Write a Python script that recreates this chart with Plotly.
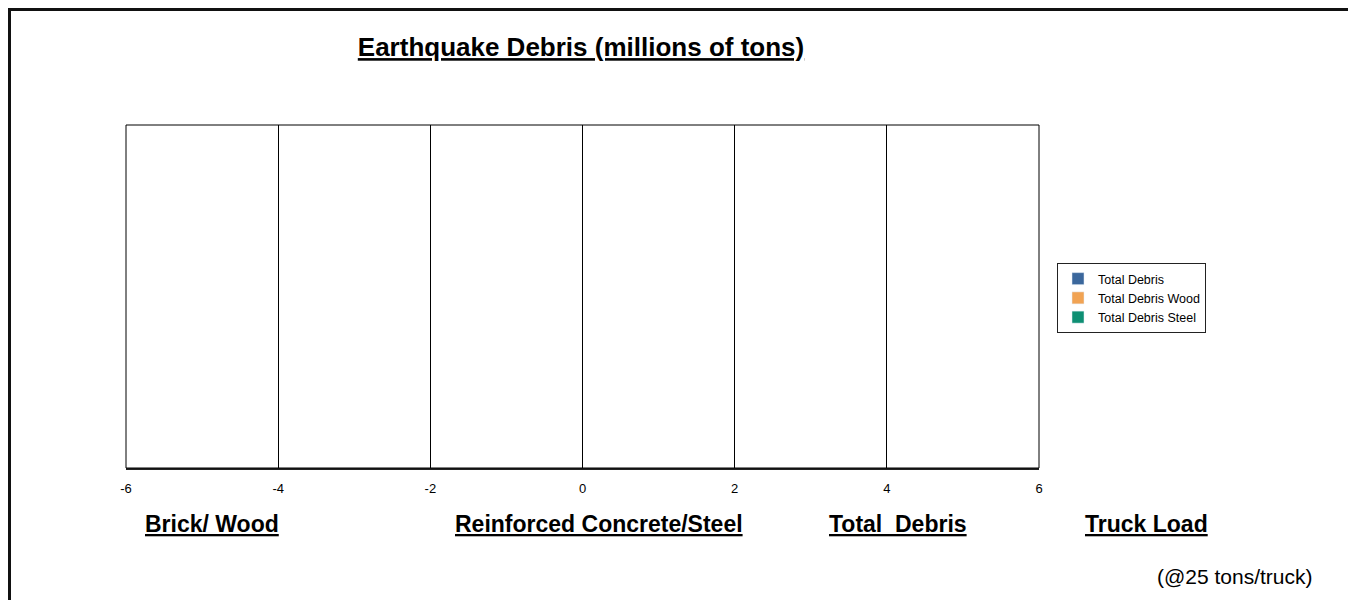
import plotly.graph_objects as go

# Data (chart shows no bars: values are empty)
categories = ["Brick/ Wood", "Reinforced Concrete/Steel", "Total  Debris", "Truck Load"]
series_names = ["Total Debris", "Total Debris Wood", "Total Debris Steel"]
series_values = {
    "Total Debris": [None, None, None, None],
    "Total Debris Wood": [None, None, None, None],
    "Total Debris Steel": [None, None, None, None],
}
series_colors = ["#3B679C", "#F1A353", "#0E8F73"]
tick_values = [-6, -4, -2, 0, 2, 4, 6]
tick_labels = ["-6", "-4", "-2", "0", "2", "4", "6"]

OFF = 8  # page body margin
W, H = 1356, 600
L, T = 126 - OFF, 125 - OFF
pw, ph = 913, 343
R = W - L - pw
B = H - T - ph

def px(x):
    return (x - OFF - L) / pw

def py(y):
    return (T + ph - (y - OFF)) / ph

fig = go.Figure()
for name, color in zip(series_names, series_colors):
    fig.add_trace(go.Bar(
        y=categories, x=series_values[name], name=name, orientation="h",
        marker=dict(color=color), showlegend=True,
    ))

fig.update_layout(
    width=W, height=H,
    margin=dict(l=L, r=R, t=T, b=B),
    paper_bgcolor="white", plot_bgcolor="white",
    font=dict(family="Arial, Liberation Sans, sans-serif", color="black"),
    barmode="group",
    title=dict(
        text="<b><u>Earthquake Debris (millions of tons)</u></b>",
        x=px(581), xref="paper", xanchor="center",
        y=1 - (47 - OFF) / H, yanchor="middle",
        font=dict(size=26, color="black"),
    ),
    xaxis=dict(
        range=[-6, 6], tickmode="array", tickvals=tick_values, ticktext=tick_labels,
        showgrid=True, gridcolor="black", gridwidth=1,
        zeroline=True, zerolinecolor="black", zerolinewidth=1,
        showline=True, linecolor="#222", linewidth=2,
        ticks="", tickfont=dict(size=13, color="black"), ticklabelstandoff=7,
    ),
    yaxis=dict(
        showticklabels=False, showgrid=False, zeroline=False, showline=False,
        ticks="", categoryorder="array", categoryarray=categories,
    ),
    legend=dict(
        x=px(1057), y=py(263), xanchor="left", yanchor="top",
        bordercolor="#222", borderwidth=1, bgcolor="white",
        font=dict(size=12.5, color="black"),
        itemwidth=30, tracegroupgap=0,
    ),
    showlegend=True,
    shapes=[
        # plot area border
        dict(type="rect", xref="paper", yref="paper", x0=0, x1=1, y0=0, y1=1,
             line=dict(color="black", width=1), layer="above"),
        # outer chart border (top and left visible)
        dict(type="path", xref="paper", yref="paper",
             path=f"M {px(9.5)} {py(620)} L {px(9.5)} {py(9.5)} L {px(1380)} {py(9.5)}",
             line=dict(color="#111", width=3)),
    ],
)

labels = [
    ("<b><u>Brick/ Wood</u></b>", 212, 524, 23),
    ("<b><u>Reinforced Concrete/Steel</u></b>", 598.5, 524, 23),
    ("<b><u>Total  Debris</u></b>", 898, 524, 23),
    ("<b><u>Truck Load</u></b>", 1146.5, 524, 23),
    ("(@25 tons/truck)", 1235, 576, 21),
]
for text, x, y, size in labels:
    fig.add_annotation(
        text=text, xref="paper", yref="paper", x=px(x), y=py(y),
        xanchor="center", yanchor="middle", showarrow=False,
        font=dict(size=size, color="black"),
    )

fig.write_html("out.html")
